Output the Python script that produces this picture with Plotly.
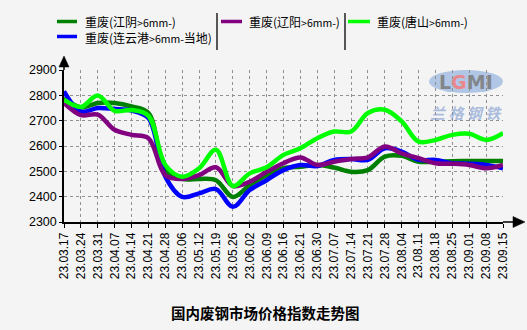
import plotly.graph_objects as go

# ---------------- data ----------------
dates = ["23.03.17", "23.03.24", "23.03.31", "23.04.07", "23.04.14", "23.04.21",
         "23.04.28", "23.05.06", "23.05.12", "23.05.19", "23.05.26", "23.06.02",
         "23.06.09", "23.06.16", "23.06.21", "23.06.30", "23.07.07", "23.07.14",
         "23.07.21", "23.07.28", "23.08.04", "23.08.11", "23.08.18", "23.08.25",
         "23.09.01", "23.09.08", "23.09.15"]
week_idx = list(range(len(dates)))

names = ["重废(江阴>6mm-)", "重废(连云港>6mm-当地)", "重废(辽阳>6mm-)", "重废(唐山>6mm-)"]

jiangyin = [2790, 2752, 2770, 2770, 2756, 2730, 2505, 2470, 2470, 2465, 2399, 2446,
            2485, 2512, 2518, 2525, 2515, 2498, 2505, 2558, 2561, 2538, 2538, 2540,
            2541, 2541, 2541]
lianyungang = [2816, 2736, 2750, 2746, 2740, 2710, 2479, 2399, 2413, 2430, 2360, 2426,
               2465, 2505, 2525, 2521, 2545, 2549, 2545, 2591, 2578, 2545, 2545, 2532,
               2530, 2525, 2512]
liaoyang = [2770, 2722, 2724, 2664, 2644, 2631, 2485, 2470, 2485, 2516, 2442, 2459,
            2498, 2532, 2555, 2525, 2538, 2549, 2555, 2598, 2571, 2552, 2532, 2530,
            2525, 2512, 2525]
tangshan = [2783, 2754, 2799, 2739, 2742, 2719, 2525, 2479, 2512, 2585, 2442, 2492,
            2516, 2565, 2591, 2631, 2657, 2657, 2730, 2743, 2697, 2617, 2624, 2644,
            2648, 2624, 2651]

series = [jiangyin, lianyungang, liaoyang, tangshan]
colors = ["#008000", "#0000FF", "#800080", "#00FF00"]
draw_order = [0, 1, 2, 3]

y_min, y_max, y_step = 2300, 2900, 100

# ---------------- layout geometry ----------------
W, H = 527, 330
ML, MR, MT, MB = 64, 24, 70, 108
PW = W - ML - MR
PH = H - MT - MB


def px(X):
    return (X - ML) / PW


def py(Y):
    return (H - MB - Y) / PH


def legend_label(name):
    # latin part of the label is rendered smaller, as in the reference
    out = ""
    buf = ""
    for ch in name:
        if ch.isascii() and ch not in "()":
            buf += ch
        else:
            if buf:
                out += f"<span style='font-size:10.5px'>{buf}</span>"
                buf = ""
            out += ch
    if buf:
        out += f"<span style='font-size:10.5px'>{buf}</span>"
    return out


BG = "#F4F4F4"
fig = go.Figure()

for k in draw_order:
    fig.add_trace(go.Scatter(
        x=week_idx, y=series[k], mode="lines", name=names[k],
        line=dict(color=colors[k], width=4.5, shape="spline", smoothing=1.0),
        showlegend=False, hoverinfo="skip"))

shapes = []
annotations = []

# axis arrow extensions
shapes.append(dict(type="line", xref="paper", yref="paper",
                   x0=px(64), x1=px(64), y0=py(70), y1=py(64),
                   line=dict(color="black", width=1.5)))
shapes.append(dict(type="path", xref="paper", yref="paper",
                   path=f"M {px(64)},{py(56)} L {px(59)},{py(67)} L {px(69)},{py(67)} Z",
                   fillcolor="black", line=dict(color="black", width=0.5)))
shapes.append(dict(type="line", xref="paper", yref="paper",
                   x0=px(503), x1=px(515), y0=py(222), y1=py(222),
                   line=dict(color="black", width=1.5)))
shapes.append(dict(type="path", xref="paper", yref="paper",
                   path=f"M {px(525)},{py(222)} L {px(513)},{py(216.5)} L {px(513)},{py(227.5)} Z",
                   fillcolor="black", line=dict(color="black", width=0.5)))

# custom legend: sample lines
legend_lines = [  # (line x0, line x1, y)
    (57, 77, 21.5),
    (57, 77, 36.5),
    (221, 242, 21.5),
    (348, 370, 21.5),
]
for k, (lx0, lx1, ly) in enumerate(legend_lines):
    shapes.append(dict(type="line", xref="paper", yref="paper",
                       x0=px(lx0), x1=px(lx1), y0=py(ly), y1=py(ly),
                       line=dict(color=colors[k], width=3.5)))

legend_font = dict(family="Noto Sans CJK SC", size=12, color="black")
# first column holds two entries stacked
annotations.append(dict(xref="paper", yref="paper", x=px(83), y=py(29),
                        xanchor="left", yanchor="middle", align="left", showarrow=False,
                        text=legend_label(names[0]) + "<br>" + legend_label(names[1]),
                        font=legend_font))
annotations.append(dict(xref="paper", yref="paper", x=px(247), y=py(21.5),
                        xanchor="left", yanchor="middle", showarrow=False,
                        text=legend_label(names[2]), font=legend_font))
annotations.append(dict(xref="paper", yref="paper", x=px(375), y=py(21.5),
                        xanchor="left", yanchor="middle", showarrow=False,
                        text=legend_label(names[3]), font=legend_font))
for sx in (217, 345):
    shapes.append(dict(type="line", xref="paper", yref="paper",
                       x0=px(sx), x1=px(sx), y0=py(13), y1=py(50),
                       line=dict(color="#222222", width=1.5)))

# watermark
shapes.append(dict(type="circle", xref="paper", yref="paper", layer="below",
                   x0=px(429), x1=px(503), y0=py(70), y1=py(93),
                   fillcolor="rgba(120,160,215,0.55)", line=dict(width=0)))
annotations.append(dict(xref="paper", yref="paper", x=px(466), y=py(81.5),
                        xanchor="center", yanchor="middle", showarrow=False,
                        text="<b>L<span style='color:#f08080'>G</span>MI</b>",
                        font=dict(family="DejaVu Sans", size=19, color="rgba(125,125,125,0.9)")))
annotations.append(dict(xref="paper", yref="paper", x=px(466), y=py(112),
                        xanchor="center", yanchor="middle", showarrow=False,
                        text="<b><i>兰 格 钢 铁</i></b>",
                        font=dict(family="Noto Sans CJK SC", size=15, color="rgba(120,150,205,0.6)")))

# title
annotations.append(dict(xref="paper", yref="paper", x=px(265), y=py(312),
                        xanchor="center", yanchor="middle", showarrow=False,
                        text="<b>国内废钢市场价格指数走势图</b>",
                        font=dict(family="Noto Sans CJK SC", size=14.5, color="black")))

axis_font = dict(family="Liberation Sans, Arial", size=12.5, color="black")
fig.update_layout(
    width=W, height=H,
    margin=dict(l=ML, r=MR, t=MT, b=MB, pad=0),
    paper_bgcolor=BG, plot_bgcolor=BG,
    showlegend=False,
    shapes=shapes, annotations=annotations,
    xaxis=dict(range=[0, len(dates) - 1], tickmode="array", tickvals=week_idx,
               ticktext=dates, tickangle=-90,
               tickfont=dict(family="Liberation Sans, Arial", size=12, color="black"),
               ticks="outside", ticklen=4, tickcolor="black", tickwidth=1,
               showline=True, linecolor="black", linewidth=1.5,
               showgrid=True, gridcolor="#909090", griddash="dot", gridwidth=1,
               zeroline=False, fixedrange=True),
    yaxis=dict(range=[y_min, y_max], dtick=y_step, tick0=y_min, tickfont=axis_font,
               ticks="outside", ticklen=3, tickcolor="black", tickwidth=1,
               showline=True, linecolor="black", linewidth=1.5,
               showgrid=True, gridcolor="#909090", griddash="dot", gridwidth=1,
               zeroline=False, fixedrange=True),
)

fig.write_html("out.html")
